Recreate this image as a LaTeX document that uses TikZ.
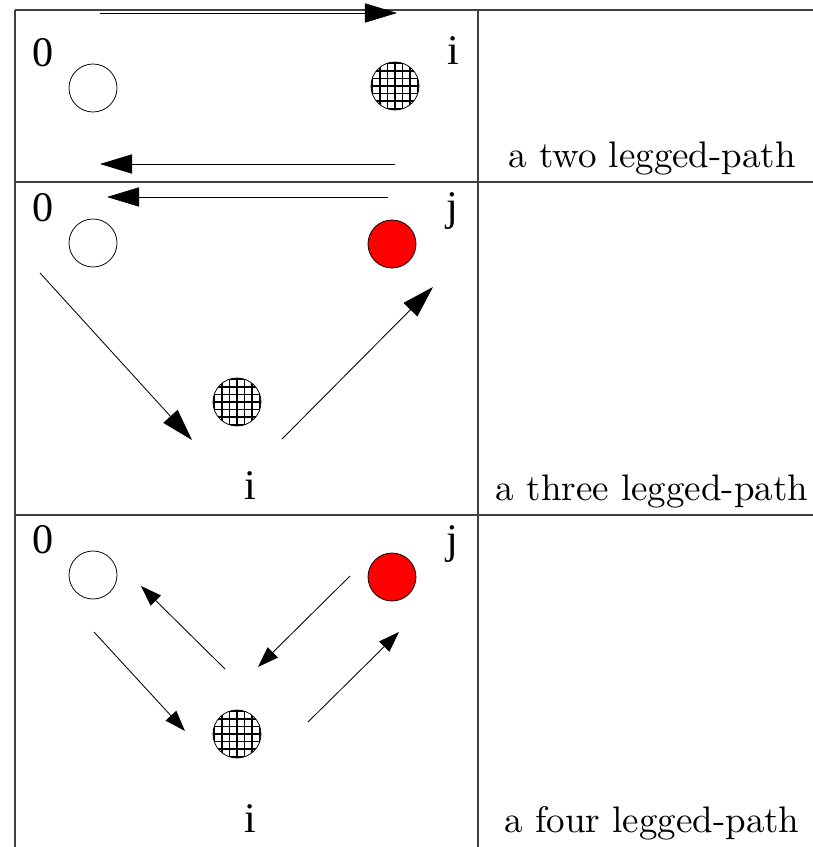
\documentclass[tikz,border=0pt]{standalone}
\usepackage{fontspec}
\usepackage{tikz}
\usetikzlibrary{arrows.meta}
\newfontfamily\labfont{Liberation Serif}
\newfontfamily\capfont{lmroman10-regular.otf}

\begin{document}
\begin{tikzpicture}[x=0.025cm, y=-0.025cm, every node/.style={inner sep=0pt}]
        \tikzset{ball/.style={circle, draw, line width=0.55pt, minimum size=1.2cm}}
        \tikzset{hatched/.style={ball, fill=white, path picture={
            \draw[line width=1.1pt] (path picture bounding box.south west) grid[step=0.19cm] (path picture bounding box.north east);}}}
        \tikzset{lab/.style={anchor=base, font=\labfont\fontsize{30}{30}\selectfont}}
        \tikzset{captext/.style={anchor=base, font=\capfont\fontsize{26.3}{30}\selectfont}}
        \useasboundingbox (0,0) rectangle (813,847);
        % table rules
        \draw[line width=0.8pt, black!75] (15,10) -- (813,10) (15,182) -- (813,182) (15,515) -- (813,515);
        \draw[line width=0.8pt, black!75] (15,10) -- (15,847) (478,10) -- (478,847);
        % two legs
        \node[ball] (z1) at (93,88) {};
        \node[hatched] (i1) at (395,86) {};
        \node[lab] (lz1) at (43,67) {0};
        \node[lab] (li1) at (453,65) {i};
        \node[captext] (c1) at (652,167) {a two legged-path};
        % three legs
        \node[ball] (z2) at (93,243) {};
        \node[ball, fill=red] (j2) at (392,244) {};
        \node[hatched] (i2) at (237,402) {};
        \node[lab] (lz2) at (43,221) {0};
        \node[lab] (lj2) at (452,220) {j};
        \node[lab] (li2) at (250,499) {i};
        \node[captext] (c2) at (652,500) {a three legged-path};
        % four legs
        \node[ball] (z3) at (93,575) {};
        \node[ball, fill=red] (j3) at (392,577) {};
        \node[hatched] (i3) at (237,734) {};
        \node[lab] (lz3) at (43,553) {0};
        \node[lab] (lj3) at (452,553) {j};
        \node[lab] (li3) at (250,832) {i};
        \node[captext] (c3) at (652,832) {a four legged-path};
        % arrow ends
        \coordinate (p1) at (100,13);  \coordinate (q1) at (397,13);
        \coordinate (p2) at (395,164); \coordinate (q2) at (100,164);
        \coordinate (p3) at (388,197); \coordinate (q3) at (107,197);
        \coordinate (p4) at (40,273);  \coordinate (q4) at (192,440);
        \coordinate (p5) at (282,439); \coordinate (q5) at (433,287);
        \coordinate (p6) at (94,632);  \coordinate (q6) at (185,731);
        \coordinate (p7) at (225,669); \coordinate (q7) at (141,586);
        \coordinate (p8) at (350,576); \coordinate (q8) at (258,667);
        \coordinate (p9) at (308,722); \coordinate (q9) at (399,632);
        \tikzset{bigleg/.style={-{Triangle[length=0.8cm, width=0.48cm]}, line width=0.6pt}}
        \tikzset{leg/.style={-{Triangle[length=0.52cm, width=0.36cm]}, line width=0.6pt}}
        \path (p1) edge [bigleg] (q1);
        \path (p2) edge [bigleg] (q2);
        \path (p3) edge [bigleg] (q3);
        \path (p4) edge [bigleg] (q4);
        \path (p5) edge [bigleg] (q5);
        \path (p6) edge [leg] (q6);
        \path (p7) edge [leg] (q7);
        \path (p8) edge [leg] (q8);
        \path (p9) edge [leg] (q9);
      \end{tikzpicture}
\end{document}
